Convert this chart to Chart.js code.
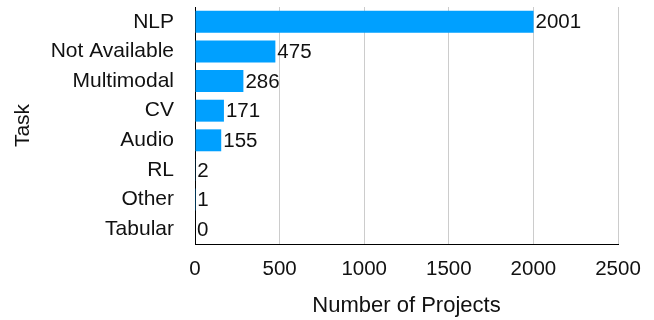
<!DOCTYPE html>
<html>
<head>
<meta charset="utf-8">
<script src="https://cdn.jsdelivr.net/npm/chart.js@4.4.0/dist/chart.umd.min.js"></script>
<style>
  body { margin: 0; background: #fff; }
  #wrap { width: 654px; height: 320px; position: relative; }
</style>
</head>
<body>
<div id="wrap"><canvas id="taskChart"></canvas></div>
<script>
// data
const tasks = ["NLP", "Not Available", "Multimodal", "CV", "Audio", "RL", "Other", "Tabular"];
const projectCounts = [2001, 475, 286, 171, 155, 2, 1, 0];
const xTicks = [0, 500, 1000, 1500, 2000, 2500];

const fontFamily = "'Liberation Sans', Arial, Helvetica, sans-serif";

// value labels at the end of each bar
const barLabels = {
  id: 'barLabels',
  afterDatasetsDraw(chart) {
    const ctx = chart.ctx;
    const meta = chart.getDatasetMeta(0);
    ctx.save();
    ctx.font = '20.5px ' + fontFamily;
    ctx.fillStyle = '#111';
    ctx.textAlign = 'left';
    ctx.textBaseline = 'middle';
    meta.data.forEach((bar, i) => {
      ctx.fillText(String(chart.data.datasets[0].data[i]), bar.x + 2, bar.y + 1);
    });
    ctx.restore();
  }
};

var ctx = document.getElementById('taskChart').getContext('2d');

grafico = new Chart(ctx, {
  type: 'bar',
  data: {
    labels: tasks,
    datasets: [{
      data: projectCounts,
      backgroundColor: '#00a0ff',
      borderWidth: 0,
      categoryPercentage: 1,
      barPercentage: 0.74
    }]
  },
  options: {
    indexAxis: 'y',
    responsive: true,
    maintainAspectRatio: false,
    animation: false,
    layout: { padding: { top: 7, right: 36, left: 0, bottom: 0 } },
    plugins: {
      legend: { display: false },
      tooltip: { enabled: false }
    },
    scales: {
      x: {
        min: 0,
        max: 2500,
        afterBuildTicks: (scale) => { scale.ticks = xTicks.map(v => ({ value: v })); },
        afterFit: (scale) => { scale.height = 76; },
        grid: { color: '#cccccc', lineWidth: 1, drawTicks: false },
        border: { color: '#000', width: 1 },
        ticks: {
          color: '#111',
          padding: 13,
          maxRotation: 0,
          font: { size: 20.5, family: fontFamily },
          callback: (v) => String(v)
        },
        title: {
          display: true,
          text: 'Number of Projects',
          color: '#111',
          font: { size: 22, family: fontFamily },
          padding: { top: 0, bottom: 1 }
        }
      },
      y: {
        afterFit: (scale) => {
          scale.width = 195;
          scale.paddingTop = 0;
          scale.paddingBottom = 0;
        },
        grid: { display: false, drawTicks: false },
        border: { color: '#000', width: 1 },
        ticks: {
          color: '#111',
          padding: 21,
          autoSkip: false,
          font: { size: 21, family: fontFamily }
        },
        title: {
          display: true,
          text: 'Task',
          color: '#111',
          font: { size: 21, family: fontFamily },
          padding: { top: 11, bottom: 0 }
        }
      }
    }
  },
  plugins: [barLabels]
});
</script>
</body>
</html>
